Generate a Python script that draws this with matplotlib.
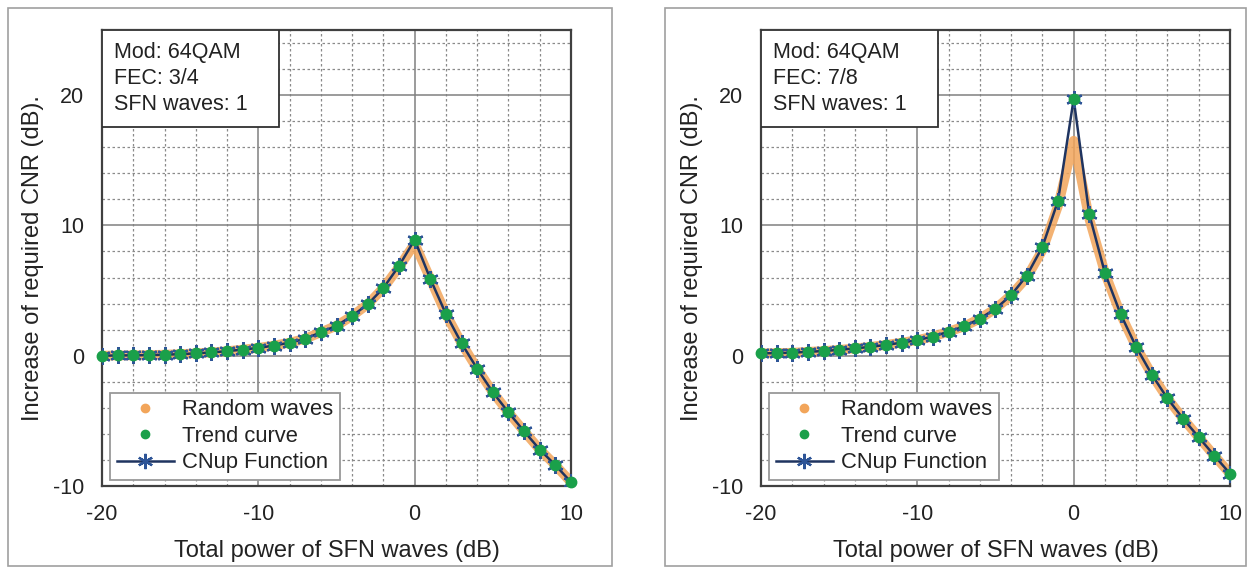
import matplotlib
matplotlib.use('Agg')
import matplotlib.pyplot as plt
from matplotlib.lines import Line2D
from matplotlib.patches import Rectangle
from matplotlib.ticker import MultipleLocator

plt.rcParams['font.family'] = ['Liberation Sans', 'DejaVu Sans']
plt.rcParams['axes.unicode_minus'] = False

x_db = list(range(-20, 11))

# FEC 3/4
trend_34 = [0.0, 0.02, 0.03, 0.05, 0.08, 0.12, 0.18, 0.25, 0.35, 0.47, 0.6,
            0.78, 1.0, 1.3, 1.8, 2.3, 3.05, 3.95, 5.2, 6.9, 8.9,
            5.9, 3.2, 0.95, -1.0, -2.8, -4.35, -5.8, -7.2, -8.4, -9.7]
random_34 = [0.0, 0.02, 0.03, 0.05, 0.08, 0.12, 0.18, 0.25, 0.35, 0.47, 0.6,
             0.78, 1.0, 1.3, 1.8, 2.3, 3.05, 3.95, 5.2, 6.8, 8.6,
             5.9, 3.2, 0.95, -1.0, -2.8, -4.35, -5.8, -7.2, -8.4, -9.7]

# FEC 7/8
trend_78 = [0.18, 0.2, 0.23, 0.3, 0.36, 0.45, 0.56, 0.68, 0.83, 1.0, 1.2,
            1.47, 1.85, 2.25, 2.85, 3.6, 4.65, 6.15, 8.35, 11.9, 19.7,
            10.85, 6.35, 3.2, 0.67, -1.45, -3.28, -4.83, -6.26, -7.67, -9.05]
random_78 = [0.18, 0.2, 0.23, 0.3, 0.36, 0.45, 0.56, 0.68, 0.83, 1.0, 1.2,
             1.47, 1.85, 2.25, 2.85, 3.6, 4.65, 6.0, 8.1, 11.5, 16.5,
             10.5, 6.35, 3.2, 0.67, -1.45, -3.28, -4.83, -6.26, -7.67, -9.05]

panels = [
    ('3/4', trend_34, random_34, 102, 8, 612),
    ('7/8', trend_78, random_78, 761, 665, 1246),
]

orange = '#f2a55a'
green = '#1aa04a'
navy = '#1f3460'
blue = '#2e5597'

W, H = 1252, 574
fig = plt.figure(figsize=(W / 100, H / 100), dpi=100)

for fec, trend, rand, ax_left, frame_l, frame_r in panels:
    # outer chart-area frame
    fig.patches.append(Rectangle((frame_l / W, 8 / H), (frame_r - frame_l) / W, (566 - 8) / H,
                                 transform=fig.transFigure, fill=False,
                                 edgecolor='#a0a0a0', lw=1.2))

    ax = fig.add_axes([ax_left / W, (H - 486) / H, 469 / W, 456 / H])
    ax.set_xlim(-20, 10)
    ax.set_ylim(-10, 25)
    ax.xaxis.set_major_locator(MultipleLocator(10))
    ax.yaxis.set_major_locator(MultipleLocator(10))
    ax.xaxis.set_minor_locator(MultipleLocator(2))
    ax.yaxis.set_minor_locator(MultipleLocator(2))
    ax.grid(which='major', color='#808080', lw=1.1)
    ax.grid(which='minor', color='#8a8a8a', lw=0.9, ls=(0, (2, 2)))
    ax.set_axisbelow(True)
    ax.tick_params(which='both', length=0, labelsize=15.5, pad=13, colors='#222222')
    for s in ax.spines.values():
        s.set_color('#404040')
        s.set_linewidth(1.6)

    ax.plot(x_db, rand, color=orange, lw=7, solid_capstyle='round', alpha=0.85, zorder=2)
    ax.plot(x_db, trend, color=navy, lw=1.8, marker=(6, 2, 0), markersize=12,
            markeredgecolor=blue, markeredgewidth=1.6, zorder=3)
    ax.plot(x_db, trend, ls='none', marker='o', markersize=7.5, color=green, zorder=4,
            clip_on=False)

    ax.set_xlabel('Total power of SFN waves (dB)', fontsize=17, labelpad=11, color='#222222')
    ax.set_ylabel('Increase of required CNR (dB).', fontsize=17, labelpad=6, color='#222222')

    # info box
    ax.add_patch(Rectangle((0, 1 - 97 / 456), 177 / 469, 97 / 456, transform=ax.transAxes,
                           facecolor='white', edgecolor='#303030', lw=1.3, zorder=5))
    ax.text(12 / 469, 1 - 12 / 456, 'Mod: 64QAM\nFEC: ' + fec + '\nSFN waves: 1',
            transform=ax.transAxes, va='top', ha='left', fontsize=15.5,
            linespacing=1.3, color='#222222', zorder=6)

    handles = [
        Line2D([], [], ls='none', marker='o', color=orange, markersize=6),
        Line2D([], [], ls='none', marker='o', color=green, markersize=6),
        Line2D([], [], color=navy, lw=1.8, marker=(6, 2, 0), markersize=11,
               markeredgecolor=blue, markeredgewidth=1.6),
    ]
    leg = ax.legend(handles, ['Random waves', 'Trend curve', 'CNup Function'],
                    loc='lower left', bbox_to_anchor=(8 / 469, 6 / 456), borderaxespad=0,
                    fontsize=15.8, fancybox=False, framealpha=1, edgecolor='#999999',
                    handlelength=2.6, handletextpad=0.4, labelspacing=0.25,
                    borderpad=0.3)
    leg.get_frame().set_linewidth(1.3)
    for t in leg.get_texts():
        t.set_color('#222222')

fig.savefig('out.png', dpi=100)
